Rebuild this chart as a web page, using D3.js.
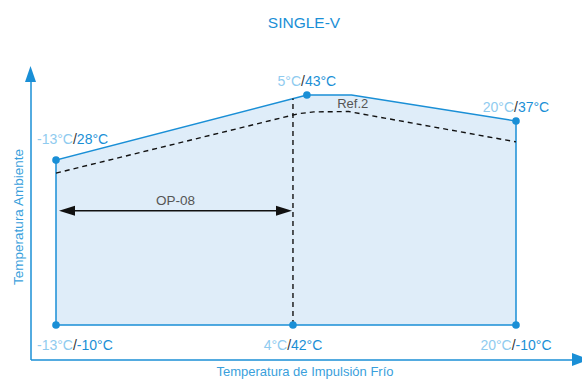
<!DOCTYPE html>
<html>
<head>
<meta charset="utf-8">
<script src="https://cdn.jsdelivr.net/npm/d3@7"></script>
<style>
  html, body { margin: 0; padding: 0; background: #fff; }
  svg { display: block; font-family: "Liberation Sans", Arial, sans-serif; }
</style>
</head>
<body>
<svg id="chart" width="582" height="380"></svg>
<script>
// ---------- data ----------
const titleText = "SINGLE-V";
const xTitle = "Temperatura de Impulsión Frío";
const yTitle = "Temperatura Ambiente";

// operating envelope (x = impulsión °C, y = ambiente °C)
const envelopeX = [-13, -13, 5, 8.2, 20, 20];
const envelopeY = [-10, 28, 43, 43, 37, -10];

// Ref.2 dashed limit
const refX = [-13, 4.4, 5.5, 8.0, 9.0, 20];
const refY = [25, 38.7, 39.1, 39.2, 38.6, 32.2];
const refLabel = "Ref.2";

// marked points and labels
const pointX = [-13, 5, 20, -13, 4, 20];
const pointY = [28, 43, 37, -10, -10, -10];
const labelA = ["-13°C", "5°C", "20°C", "-13°C", "4°C", "20°C"];
const labelB = ["28°C", "43°C", "37°C", "-10°C", "42°C", "-10°C"];

// OP-08 range
const opRange = [-13, 4];
const opLevel = 16.3;
const opLabel = "OP-08";
const dividerX = 4;

// ---------- layout ----------
const W = 582, H = 380;
const svg = d3.select("#chart");
const blue = "#1a8fd6", lightBlue = "#8fcbef", fillBlue = "#dfedf9";

const x = d3.scaleLinear().domain([-13, 20]).range([56, 516]);
const y = d3.scaleLinear().domain([-10, 43]).range([325, 95]);

const axisX0 = 30.5, axisY0 = 359.5;

// axes (no ticks) using extended scales
const xAxisScale = d3.scaleLinear().domain([x.invert(axisX0), x.invert(574)]).range([axisX0, 574]);
const yAxisScale = d3.scaleLinear().domain([y.invert(axisY0), y.invert(80)]).range([axisY0, 80]);

const gx = svg.append("g").attr("transform", `translate(0,${axisY0})`)
  .call(d3.axisBottom(xAxisScale).tickValues([]).tickSizeOuter(0));
gx.select(".domain").attr("stroke", blue).attr("stroke-width", 1.5);
const gy = svg.append("g").attr("transform", `translate(${axisX0},0)`)
  .call(d3.axisLeft(yAxisScale).tickValues([]).tickSizeOuter(0));
gy.select(".domain").attr("stroke", blue).attr("stroke-width", 1.5);

// arrowheads of axes
svg.append("path")
  .attr("d", `M${axisX0 - 5.5},82 L${axisX0},66 L${axisX0 + 5.5},82 Z`)
  .attr("fill", blue);
svg.append("path")
  .attr("d", `M572,${axisY0 - 6.5} L589,${axisY0} L572,${axisY0 + 6.5} Z`)
  .attr("fill", blue);

// envelope
const env = envelopeX.map((d, i) => [d, envelopeY[i]]);
const envLine = d3.line().x(d => x(d[0])).y(d => y(d[1]));
svg.append("path")
  .attr("d", envLine(env) + "Z")
  .attr("fill", fillBlue).attr("stroke", "none");
svg.append("path")
  .attr("d", envLine(env) + "Z")
  .attr("fill", "none").attr("stroke", blue).attr("stroke-width", 1.5);

// Ref.2 dashed line
const ref = refX.map((d, i) => [d, refY[i]]);
svg.append("path")
  .attr("d", d3.line().x(d => x(d[0])).y(d => y(d[1]))(ref))
  .attr("fill", "none").attr("stroke", "#111").attr("stroke-width", 1.4)
  .attr("stroke-dasharray", "5,4");
svg.append("text").text(refLabel)
  .attr("x", x(8.0) + 4).attr("y", y(39.2) - 3)
  .attr("fill", "#555").attr("font-size", 13).attr("text-anchor", "middle");

// vertical divider dashed (to envelope top)
const topAt = v => {
  const i = d3.bisectRight(envelopeX.slice(1, 5), v);
  const x0 = envelopeX[i], x1 = envelopeX[i + 1];
  const t = (v - x0) / (x1 - x0);
  return envelopeY[i] + t * (envelopeY[i + 1] - envelopeY[i]);
};
svg.append("line")
  .attr("x1", x(dividerX)).attr("x2", x(dividerX))
  .attr("y1", y(-10)).attr("y2", y(topAt(dividerX)))
  .attr("stroke", "#111").attr("stroke-width", 1.4).attr("stroke-dasharray", "5,4");

// OP-08 double arrow
const ax1 = x(opRange[0]) + 3, ax2 = x(opRange[1]) - 1, ay = y(opLevel);
svg.append("line").attr("x1", ax1 + 10).attr("x2", ax2 - 10).attr("y1", ay).attr("y2", ay)
  .attr("stroke", "#111").attr("stroke-width", 1.5);
svg.append("path").attr("d", `M${ax1},${ay} L${ax1 + 16},${ay - 5} L${ax1 + 16},${ay + 5} Z`).attr("fill", "#111");
svg.append("path").attr("d", `M${ax2},${ay} L${ax2 - 16},${ay - 5} L${ax2 - 16},${ay + 5} Z`).attr("fill", "#111");
svg.append("text").text(opLabel)
  .attr("x", (ax1 + ax2) / 2).attr("y", ay - 6)
  .attr("fill", "#555").attr("font-size", 13.5).attr("text-anchor", "middle");

// points
svg.selectAll("circle.pt").data(pointX).join("circle").attr("class", "pt")
  .attr("cx", d => x(d)).attr("cy", (d, i) => y(pointY[i]))
  .attr("r", 3.8).attr("fill", blue);

// point labels
pointX.forEach((d, i) => {
  const bottom = pointY[i] === -10;
  const leftEdge = d === -13;
  const t = svg.append("text")
    .attr("x", leftEdge ? 37 : x(d))
    .attr("y", bottom ? y(pointY[i]) + 25 : y(pointY[i]) - (leftEdge ? 16 : 9))
    .attr("text-anchor", leftEdge ? "start" : "middle")
    .attr("font-size", 14);
  t.append("tspan").text(labelA[i]).attr("fill", lightBlue);
  t.append("tspan").text("/").attr("fill", "#333");
  t.append("tspan").text(labelB[i]).attr("fill", blue);
});

// titles
svg.append("text").text(titleText)
  .attr("x", 304).attr("y", 28).attr("text-anchor", "middle")
  .attr("fill", blue).attr("font-size", 15.5);
svg.append("text").text(xTitle)
  .attr("x", 305).attr("y", 376).attr("text-anchor", "middle")
  .attr("fill", "#3a9fdc").attr("font-size", 13);
svg.append("text").text(yTitle)
  .attr("transform", "translate(23,217) rotate(-90)").attr("text-anchor", "middle")
  .attr("fill", "#3a9fdc").attr("font-size", 13.5);
</script>
</body>
</html>
